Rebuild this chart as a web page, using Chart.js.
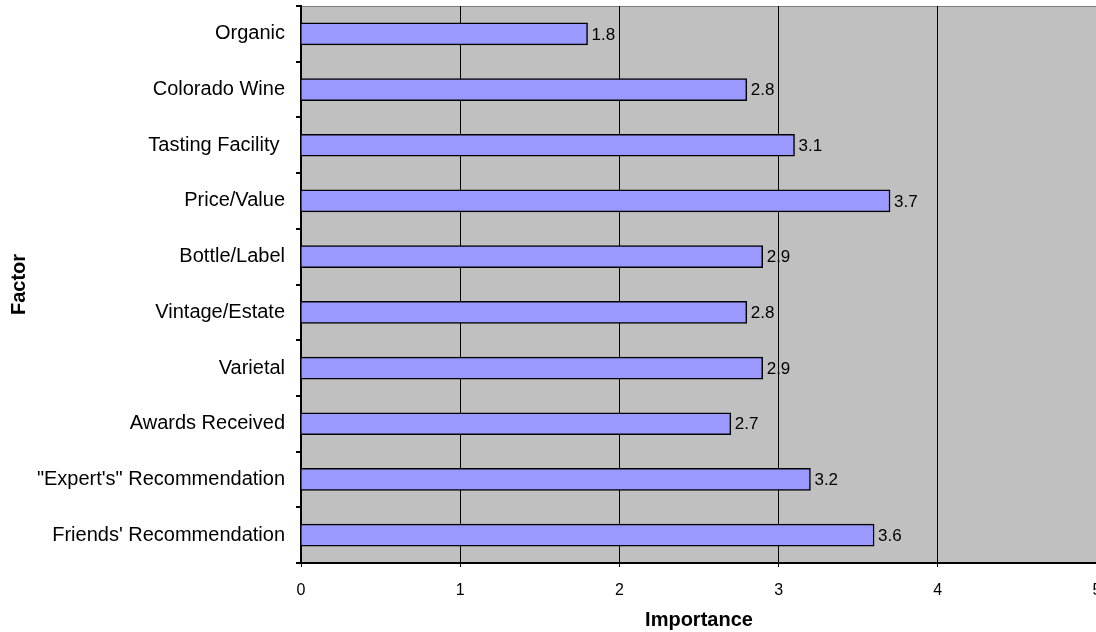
<!DOCTYPE html>
<html>
<head>
<meta charset="utf-8">
<script src="https://cdn.jsdelivr.net/npm/chart.js@4/dist/chart.umd.min.js"></script>
<style>
  html, body { margin: 0; padding: 0; background: #fff; overflow: hidden; }
  #wrap { width: 1097px; height: 632px; position: relative; }
</style>
</head>
<body>
<div id="wrap"><canvas id="c"></canvas></div>
<script>
// Factors rated for importance when choosing a wine
const factors = [
  'Organic',
  'Colorado Wine',
  'Tasting Facility ',
  'Price/Value',
  'Bottle/Label',
  'Vintage/Estate',
  'Varietal',
  'Awards Received',
  '"Expert\'s" Recommendation',
  "Friends' Recommendation"
];
const importance = [1.8, 2.8, 3.1, 3.7, 2.9, 2.8, 2.9, 2.7, 3.2, 3.6];
const importanceTicks = [0, 1, 2, 3, 4, 5];

const FONT = 'Liberation Sans, Arial, sans-serif';

function noPadding(scale) {
  scale.paddingLeft = 0;
  scale.paddingRight = 0;
  scale.paddingTop = 0;
  scale.paddingBottom = 0;
}

// Gray plot area with a darker top edge
const plotBackground = {
  id: 'plotBackground',
  beforeDraw(chart) {
    const { ctx, chartArea: a } = chart;
    ctx.save();
    ctx.fillStyle = '#c0c0c0';
    ctx.fillRect(a.left, a.top, a.right - a.left, a.bottom - a.top);
    ctx.strokeStyle = '#808080';
    ctx.lineWidth = 1;
    ctx.beginPath();
    ctx.moveTo(a.left, a.top + 0.5);
    ctx.lineTo(a.right, a.top + 0.5);
    ctx.stroke();
    ctx.restore();
  }
};

// Value labels at the end of each bar
const valueLabels = {
  id: 'valueLabels',
  afterDatasetsDraw(chart) {
    const { ctx } = chart;
    const meta = chart.getDatasetMeta(0);
    ctx.save();
    ctx.font = '17px ' + FONT;
    ctx.fillStyle = '#000';
    ctx.textAlign = 'left';
    ctx.textBaseline = 'middle';
    meta.data.forEach((bar, i) => {
      ctx.fillText(importance[i].toFixed(1), bar.x + 4, bar.y + 1);
    });
    ctx.restore();
  }
};

new Chart(document.getElementById('c'), {
  type: 'bar',
  data: {
    labels: factors,
    datasets: [{
      data: importance,
      backgroundColor: '#9999ff',
      borderColor: '#000000',
      borderWidth: 1.5,
      borderSkipped: 'start',
      barThickness: 22
    }]
  },
  options: {
    indexAxis: 'y',
    responsive: true,
    maintainAspectRatio: false,
    animation: false,
    layout: { padding: { top: 6, left: 0, right: 0, bottom: 0 } },
    plugins: {
      legend: { display: false },
      tooltip: { enabled: false }
    },
    scales: {
      x: {
        min: 0,
        max: 5,
        afterBuildTicks(scale) {
          scale.ticks = importanceTicks.map(v => ({ value: v }));
        },
        afterFit(scale) { scale.height = 69; noPadding(scale); },
        ticks: {
          color: '#000',
          font: { family: FONT, size: 16 },
          padding: 14,
          maxRotation: 0
        },
        grid: {
          color: '#000',
          lineWidth: 1,
          tickLength: 4,
          drawTicks: true
        },
        border: { color: '#000', width: 2 },
        title: {
          display: true,
          text: 'Importance',
          color: '#000',
          font: { family: FONT, size: 20, weight: 'bold' },
          padding: { top: 6, bottom: 0 }
        }
      },
      y: {
        afterFit(scale) { scale.width = 301; noPadding(scale); },
        ticks: {
          color: '#000',
          font: { family: FONT, size: 20 },
          padding: 11,
          autoSkip: false
        },
        grid: {
          offset: true,
          drawOnChartArea: false,
          drawTicks: true,
          tickLength: 5,
          color: '#000',
          lineWidth: 2
        },
        border: { color: '#000', width: 2 },
        title: {
          display: true,
          text: 'Factor',
          color: '#000',
          font: { family: FONT, size: 20, weight: 'bold' },
          padding: { top: 7, bottom: 0 }
        }
      }
    }
  },
  plugins: [plotBackground, valueLabels]
});
</script>
</body>
</html>
